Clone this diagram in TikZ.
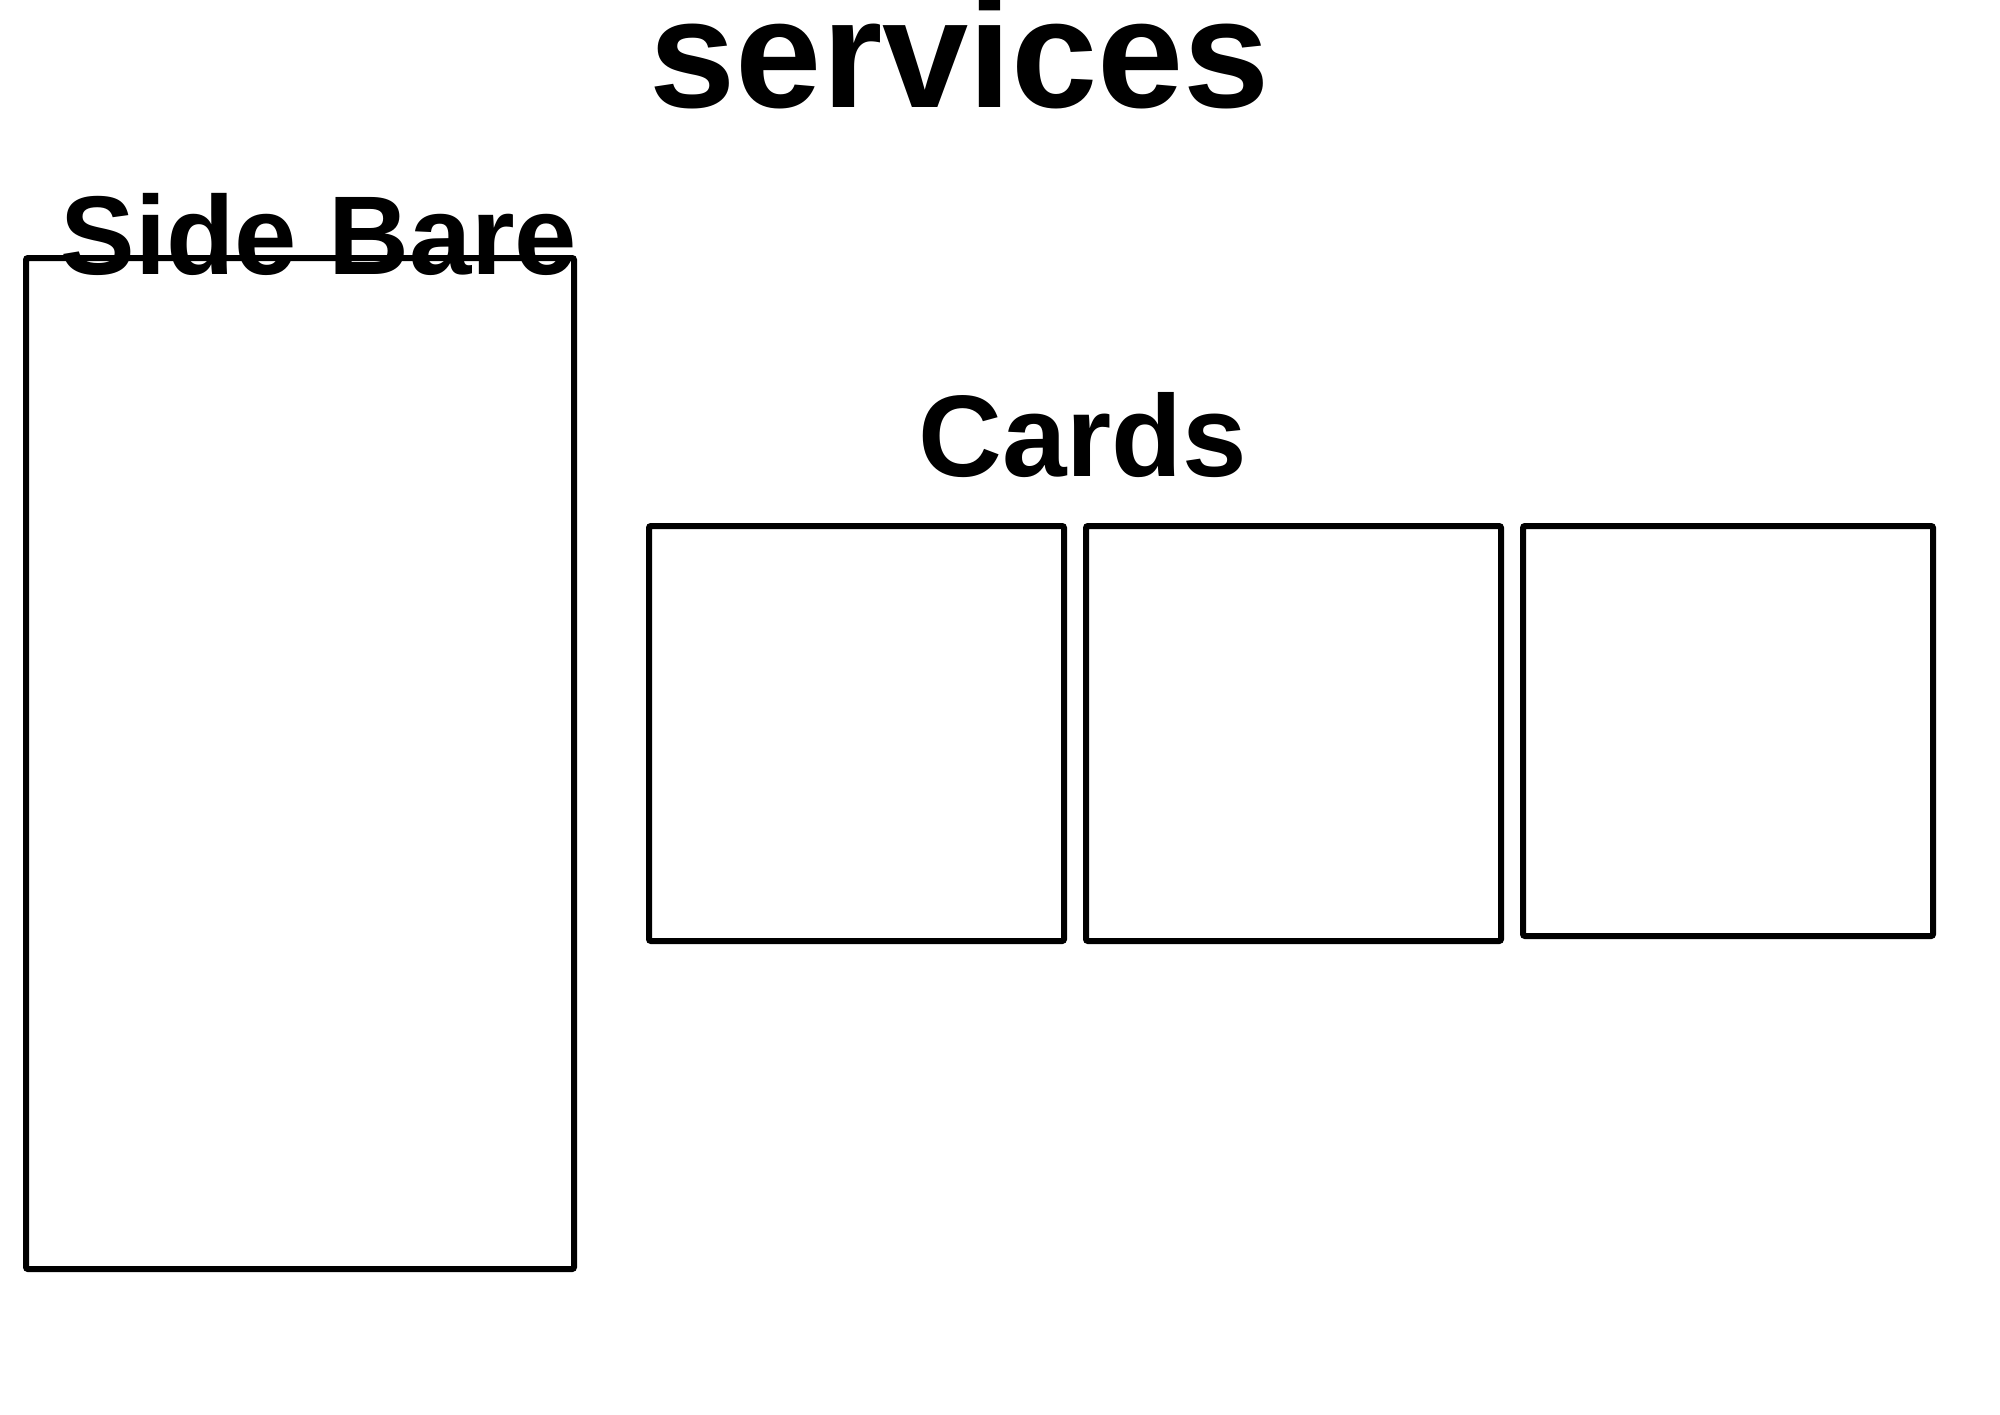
\documentclass[tikz,border=0pt]{standalone}
\usepackage{fontspec}
\setmainfont{Liberation Sans}

\begin{document}
\begin{tikzpicture}[x=0.5pt,y=-0.5pt,
                    box/.style={draw,line width=3pt,rounded corners=1pt,inner sep=0pt},
                    head/.style={font=\bfseries\fontsize{#1}{#1}\selectfont,inner sep=0pt,anchor=base}]
 % \draw[help lines] (0,0) grid[step=100] (2000,1414);
  \useasboundingbox (0,0) rectangle (2000,1414);

  \node[box,minimum width=274pt,minimum height=505.5pt]   (SB) at (300,763.5)   {};
  \node[box,minimum width=207.5pt,minimum height=207.5pt] (C1) at (856.5,733.5) {};
  \node[box,minimum width=207.5pt,minimum height=207.5pt] (C2) at (1293.5,733.5) {};
  \node[box,minimum width=205pt,minimum height=205pt]     (C3) at (1728,731)    {};

  \node[head=77.5pt] (T) at (960,107)  {services};
  \node[head=56pt]   (L) at (319,274)  {Side Bare};
  \node[head=58pt]   (K) at (1083,476) {Cards};
\end{tikzpicture}
\end{document}
